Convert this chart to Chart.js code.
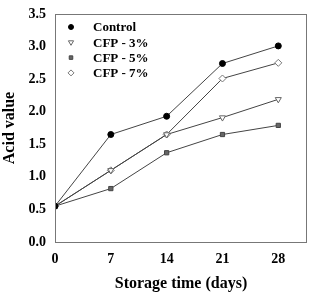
<!DOCTYPE html>
<html lang="en">
<head>
  <meta charset="UTF-8" />
  <title>Acid value vs storage time</title>
  <script src="https://cdn.jsdelivr.net/npm/chart.js"></script>
  <style>
    html, body { margin: 0; padding: 0; background: #fff; }
    #wrap { width: 312px; height: 293px; }
  </style>
</head>
<body>
  <div id="wrap"><canvas id="acidChart" width="312" height="293"></canvas></div>

  <script>
    // data
    const days = [0, 7, 14, 21, 28];
    const control = [0.55, 1.65, 1.93, 2.74, 3.01];
    const cfp3 = [0.55, 1.10, 1.65, 1.91, 2.19];
    const cfp5 = [0.55, 0.82, 1.37, 1.65, 1.79];
    const cfp7 = [0.55, 1.10, 1.65, 2.51, 2.75];
    const yTicks = [0, 0.5, 1, 1.5, 2, 2.5, 3, 3.5];
    const xTicks = [0, 7, 14, 21, 28];

    const serif = '"Liberation Serif", "Times New Roman", serif';
    const lineColor = '#444';

    function pts(vals) {
      return vals.map((v, i) => ({ x: days[i], y: v }));
    }

    // draws the box round the plot area
    const frame = {
      id: 'frame',
      afterDraw(chart) {
        const { ctx, chartArea: a } = chart;
        ctx.save();
        ctx.strokeStyle = '#777';
        ctx.lineWidth = 1;
        ctx.strokeRect(a.left + 0.5, a.top + 0.5, a.right - a.left - 1, a.bottom - a.top);
        ctx.restore();
      }
    };

    // legend sits inside the plot, top left
    const innerLegend = {
      id: 'innerLegend',
      afterDraw(chart) {
        const ctx = chart.ctx;
        ctx.save();
        ctx.font = 'bold 13px ' + serif;
        ctx.textBaseline = 'middle';
        chart.data.datasets.forEach((ds, i) => {
          const y = 27 + i * 15.3;
          ctx.fillStyle = ds.pointBackgroundColor;
          ctx.strokeStyle = ds.pointBorderColor;
          ctx.lineWidth = 1;
          Chart.helpers.drawPoint(ctx, {
            pointStyle: ds.pointStyle,
            radius: ds.pointRadius - 0.5,
            rotation: ds.pointRotation || 0,
            borderWidth: 1
          }, 71, y);
          ctx.fillStyle = '#000';
          ctx.fillText(ds.label, 93, y + 1);
        });
        ctx.restore();
      }
    };

    const ctx = document.getElementById('acidChart').getContext('2d');
    new Chart(ctx, {
      type: 'line',
      data: {
        datasets: [
          {
            label: 'Control', data: pts(control),
            pointStyle: 'circle', pointRadius: 3,
            pointBackgroundColor: '#000', pointBorderColor: '#000'
          },
          {
            label: 'CFP - 3%', data: pts(cfp3),
            pointStyle: 'triangle', pointRotation: 180, pointRadius: 3.5,
            pointBackgroundColor: '#fff', pointBorderColor: '#666'
          },
          {
            label: 'CFP - 5%', data: pts(cfp5),
            pointStyle: 'rect', pointRadius: 3,
            pointBackgroundColor: '#666', pointBorderColor: '#444'
          },
          {
            label: 'CFP - 7%', data: pts(cfp7),
            pointStyle: 'rectRot', pointRadius: 3.5,
            pointBackgroundColor: '#fff', pointBorderColor: '#777'
          }
        ].map(ds => Object.assign({
          borderColor: lineColor,
          borderWidth: 1,
          pointBorderWidth: 1,
          tension: 0,
          fill: false
        }, ds))
      },
      options: {
        responsive: false,
        animation: false,
        layout: { padding: { top: 14, right: 4, left: 0, bottom: 0 } },
        plugins: {
          legend: { display: false },
          tooltip: { enabled: false }
        },
        scales: {
          x: {
            type: 'linear',
            min: 0,
            max: 31.6,
            afterBuildTicks: axis => { axis.ticks = xTicks.map(v => ({ value: v })); },
            afterFit: s => { s.height = 51; },
            grid: { display: false, drawTicks: true, tickLength: 5, tickColor: '#777' },
            border: { display: false },
            ticks: {
              color: '#000',
              padding: 4,
              font: { family: serif, weight: 'bold', size: 14 }
            },
            title: {
              display: true,
              text: 'Storage time (days)',
              color: '#000',
              padding: { top: 2, bottom: 0 },
              font: { family: serif, weight: 'bold', size: 16 }
            }
          },
          y: {
            min: 0,
            max: 3.5,
            afterBuildTicks: axis => { axis.ticks = yTicks.map(v => ({ value: v })); },
            afterFit: s => { s.width = 55; },
            grid: { display: false, drawTicks: true, tickLength: 5, tickColor: '#777' },
            border: { display: false },
            ticks: {
              color: '#000',
              padding: 4,
              callback: v => v.toFixed(1),
              font: { family: serif, weight: 'bold', size: 14 }
            },
            title: {
              display: true,
              text: 'Acid value',
              color: '#000',
              padding: { top: 0, bottom: 0 },
              font: { family: serif, weight: 'bold', size: 16 }
            }
          }
        }
      },
      plugins: [frame, innerLegend]
    });
  </script>
</body>
</html>
